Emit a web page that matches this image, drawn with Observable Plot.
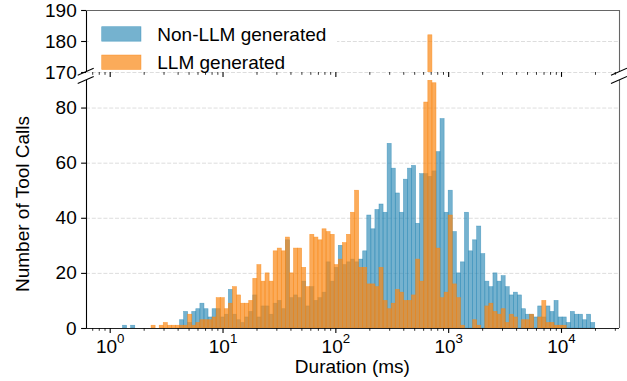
<!DOCTYPE html>
<html><head><meta charset="utf-8">
<script src="https://cdn.jsdelivr.net/npm/d3@7"></script>
<script src="https://cdn.jsdelivr.net/npm/@observablehq/plot@0.6"></script>
<style>
body{margin:0;background:#fff;}
#wrap{position:relative;width:627px;height:381px;overflow:hidden;background:#fff;font-family:"Liberation Sans",Arial,Helvetica,sans-serif;}
#wrap svg{position:absolute;left:0;overflow:visible;}
</style></head><body><div id="wrap"></div>
<script>
// Histogram bins (log-spaced)
const binLo = 1.3, binHi = 19900, nBins = 116;
// Counts per bin
const nonLLM = [1,0,1,0,0,0,0,0,0,0,
 0,0,0,0,3,6,2,6,7,9,
 7,4,7,7,4,5,14,5,3,2,
 4,6,12,4,8,8,5,9,10,7,
 32,11,12,11,17,8,15,10,11,13,
 24,17,22,30,23,24,25,24,25,28,
 41,36,43,45,42,67,58,49,42,54,
 58,59,38,56,56,55,57,64,76,42,
 50,35,20,24,42,28,32,37,27,17,
 15,20,17,19,15,12,13,12,7,5,
 5,4,8,4,8,6,10,4,4,2,
 6,5,5,3,5,2];
const llm = [0,0,0,0,0,0,0,1,0,1,
 2,1,1,1,1,1,5,1,2,3,
 3,3,4,11,11,7,9,15,12,9,
 9,10,18,23,17,20,17,28,29,28,
 33,20,29,29,22,15,34,33,32,36,
 35,34,23,25,31,34,42,50,22,22,
 16,16,15,22,10,7,9,14,13,10,
 10,12,25,17,82,182,89,29,11,13,
 41,16,11,1,0,0,3,1,0,8,
 9,6,5,7,2,5,4,0,3,3,
 5,0,4,10,2,2,1,1,1,0,
 0,0,0,0,0,0];
const seriesNames = ["Non-LLM generated", "LLM generated"];
const seriesColors = ["#2b88b5", "#fa8814"];
const seriesOpacity = [0.65, 0.7];
const majorTicks = [1, 10, 100, 1000, 10000];
const minorMult = [2,3,4,5,6,7,8,9];
const minorDecades = [0.1, 1, 10, 100, 1000, 10000];
const yTicksBottom = [0, 20, 40, 60, 80];
const yTicksTop = [170, 180, 190];
const yDomainBottom = [0, 90];
const yDomainTop = [170, 190];
const xLabel = "Duration (ms)";
const yLabel = "Number of Tool Calls";

const xDomain = [Math.pow(10, -0.21), Math.pow(10, 4.514)];
const minorTicks = minorDecades.flatMap(d => minorMult.map(m => m * d)).filter(v => v > xDomain[0] && v < xDomain[1]);
const lLo = Math.log10(binLo), lHi = Math.log10(binHi);
const edges = d3.range(nBins + 1).map(i => Math.pow(10, lLo + i * (lHi - lLo) / nBins));
const toRows = arr => arr.map((v, i) => ({x1: edges[i], x2: edges[i + 1], y: v})).filter(d => d.y > 0);
const rowsA = toRows(nonLLM), rowsB = toRows(llm);

const font = '"Liberation Sans", Arial, Helvetica, sans-serif';
const common = {
  width: 627, marginLeft: 86, marginRight: 8,
  x: {type: "log", domain: xDomain},
  style: {background: "transparent", fontFamily: font, fontSize: "19px", color: "#000", overflow: "visible"}
};
const barMarks = () => [
  Plot.rectY(rowsA, {x1: "x1", x2: "x2", y: "y", fill: seriesColors[0], fillOpacity: seriesOpacity[0], stroke: seriesColors[0], strokeOpacity: seriesOpacity[0], strokeWidth: 0.6, clip: true}),
  Plot.rectY(rowsB, {x1: "x1", x2: "x2", y: "y", fill: seriesColors[1], fillOpacity: seriesOpacity[1], stroke: seriesColors[1], strokeOpacity: seriesOpacity[1], strokeWidth: 0.6, clip: true})
];
const gridStyle = {stroke: "#d4d4d4", strokeOpacity: 1, strokeWidth: 0.8, strokeDasharray: "4,1.8"};

const bottomPlot = Plot.plot({
  ...common, height: 301, marginTop: 0, marginBottom: 53,
  y: {domain: yDomainBottom},
  marks: [
    Plot.gridY(yTicksBottom, gridStyle),
    ...barMarks(),
    Plot.ruleX([xDomain[0]], {stroke: "#000", strokeWidth: 1.1}),
    Plot.ruleX([xDomain[1]], {stroke: "#666", strokeWidth: 1.1}),
    Plot.ruleY([0], {stroke: "#222", strokeWidth: 1.1}),
    Plot.axisY({ticks: yTicksBottom, tickSize: 4.9, tickPadding: 4.9, label: null, strokeWidth: 1.1}),
    Plot.axisX({ticks: majorTicks, tickSize: 4.9, tickPadding: 6.5, label: null, strokeWidth: 1.1, tickFormat: d => "10^" + Math.round(Math.log10(d))}),
    Plot.axisX({ticks: minorTicks, tickSize: 2.8, label: null, strokeWidth: 0.8, tickFormat: () => ""})
  ]
});
const topPlot = Plot.plot({
  ...common, height: 80, marginTop: 10, marginBottom: 8,
  y: {domain: yDomainTop},
  marks: [
    Plot.gridY(yTicksTop, gridStyle),
    ...barMarks(),
    Plot.ruleX([xDomain[0]], {stroke: "#000", strokeWidth: 1.1}),
    Plot.ruleX([xDomain[1]], {stroke: "#666", strokeWidth: 1.1}),
    Plot.ruleY([yDomainTop[1]], {stroke: "#666", strokeWidth: 1.1}),
    Plot.axisY({ticks: yTicksTop, tickSize: 4.9, tickPadding: 4.9, label: null, strokeWidth: 1.1}),
    Plot.axisX({ticks: majorTicks, tickSize: 4.9, label: null, strokeWidth: 1.1, tickFormat: () => ""}),
    Plot.axisX({ticks: minorTicks, tickSize: 2.8, label: null, strokeWidth: 0.8, tickFormat: () => ""})
  ]
});
const wrap = document.getElementById("wrap");
bottomPlot.style.top = "80px";
topPlot.style.top = "0px";
wrap.appendChild(bottomPlot);
wrap.appendChild(topPlot);

// superscript exponents in x tick labels
d3.select(bottomPlot).selectAll("text").each(function() {
  const t = this.textContent;
  const m = /^10\^(-?\d+)$/.exec(t);
  if (!m) return;
  const sel = d3.select(this);
  sel.text("");
  sel.append("tspan").text("10");
  sel.append("tspan").attr("dy", "-10").attr("font-size", "13.3px").text(m[1]);
});

// overlay: legend, axis labels, break marks
const W = 627, H = 381;
const ov = d3.select(wrap).append("svg").attr("width", W).attr("height", H)
  .style("top", "0px").style("font-family", font).style("font-size", "19px");
ov.append("rect").attr("x", 89).attr("y", 14).attr("width", 248).attr("height", 56.5).attr("fill", "#fff");
const legY = [26.7, 55];
seriesNames.forEach((name, i) => {
  ov.append("rect").attr("x", 101.7).attr("y", legY[i]).attr("width", 39.3).attr("height", 14.5)
    .attr("fill", seriesColors[i]).attr("fill-opacity", seriesOpacity[i])
    .attr("stroke", seriesColors[i]).attr("stroke-opacity", seriesOpacity[i]).attr("stroke-width", 0.6);
  ov.append("text").attr("x", 157.3).attr("y", legY[i] + 14).attr("fill", "#000").text(name);
});
ov.append("text").attr("x", 352.4).attr("y", 373).attr("text-anchor", "middle").attr("fill", "#000").text(xLabel);
ov.append("text").attr("transform", "translate(29,204) rotate(-90)").attr("text-anchor", "middle").attr("fill", "#000").text(yLabel);
[85.7, 619].forEach(cx => [71.7, 80].forEach(cy => {
  ov.append("line").attr("x1", cx - 8).attr("y1", cy + 3.5).attr("x2", cx + 8).attr("y2", cy - 3.5)
    .attr("stroke", "#000").attr("stroke-width", 1.1);
}));
</script></body></html>
